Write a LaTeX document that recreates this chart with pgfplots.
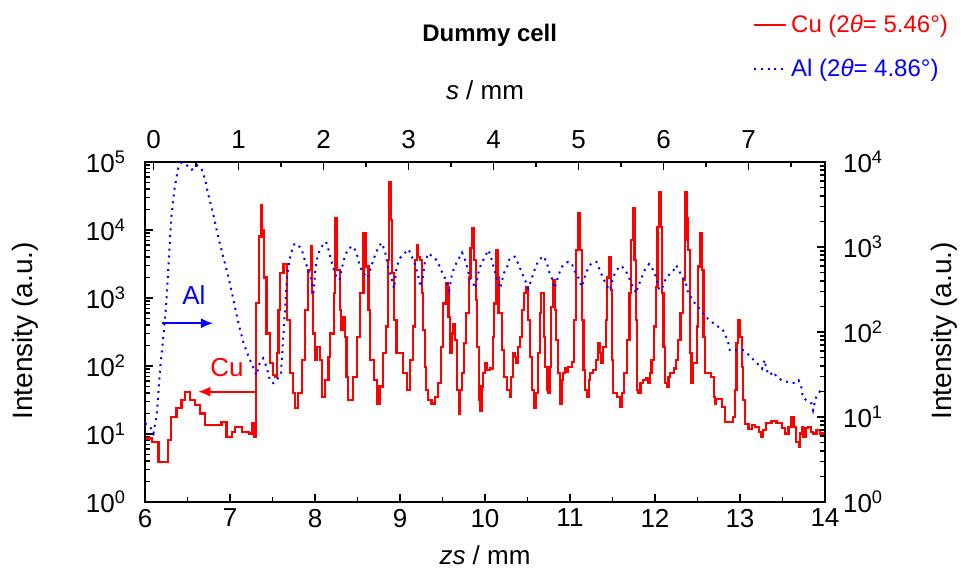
\documentclass[border=0pt]{standalone}
\usepackage{fontspec}
\setmainfont{Liberation Sans}
\usepackage{pgfplots}
\usepackage{pgfplotstable}
\pgfplotsset{compat=1.18}
\usetikzlibrary{arrows.meta}

% Cu signal (left axis), zs in mm
\pgfplotstableread{
zs I
6.00 8.6
6.08 7.7
6.16 3.9
6.24 3.9
6.27 8.2
6.31 18
6.37 24
6.43 32
6.47 42
6.53 32
6.59 27
6.65 20
6.71 13.6
6.82 13.6
6.90 15
6.96 9.1
7.02 10.8
7.06 12.8
7.14 10.8
7.22 10.2
7.26 14.4
7.28 9
7.31 850
7.34 8000
7.37 23000
7.38 10000
7.40 2000
7.43 300
7.47 110
7.51 74
7.53 69
7.55 154
7.57 670
7.59 2300
7.63 3200
7.667 475
7.706 78
7.745 40
7.765 24
7.804 40
7.843 122
7.882 670
7.922 2600
7.949 5700
7.969 1170
7.98 300
8.00 122
8.02 192
8.06 122
8.08 35
8.12 62
8.16 137
8.18 300
8.22 1170
8.24 14800
8.26 2600
8.29 670
8.31 340
8.33 530
8.35 270
8.37 69
8.39 32
8.43 32
8.45 69
8.49 270
8.53 1170
8.57 8900
8.60 2900
8.63 670
8.65 122
8.69 62
8.73 28
8.76 50
8.80 154
8.84 380
8.855 3600
8.875 51000
8.894 14000
8.91 2300
8.93 475
8.96 154
9.00 154
9.04 78
9.08 44
9.12 122
9.15 380
9.18 3600
9.20 6000
9.216 4000
9.235 3600
9.255 1170
9.275 340
9.294 97
9.31 44
9.33 32
9.37 28
9.41 35
9.45 56
9.48 192
9.51 830
9.54 1650
9.56 1470
9.57 530
9.59 154
9.61 300
9.63 420
9.65 240
9.67 44
9.69 20
9.71 44
9.73 78
9.75 215
9.78 600
9.81 2000
9.83 5400
9.85 10500
9.87 3600
9.89 930
9.91 192
9.93 32
9.945 22
9.96 50
9.98 78
10.00 110
10.02 87
10.06 92
10.09 270
10.11 830
10.13 5100
10.15 2000
10.16 600
10.20 170
10.22 69
10.26 44
10.29 35
10.31 69
10.33 154
10.35 137
10.37 110
10.39 192
10.41 270
10.44 670
10.46 1170
10.48 1470
10.51 475
10.53 137
10.55 44
10.58 24
10.60 40
10.62 154
10.65 600
10.66 1170
10.69 270
10.71 97
10.73 44
10.745 40
10.76 97
10.78 740
10.80 1830
10.82 670
10.84 240
10.86 78
10.88 28
10.90 62
10.92 78
10.94 92
10.96 82
10.98 97
11.02 115
11.05 475
11.07 5100
11.10 17600
11.12 5100
11.14 475
11.16 87
11.18 44
11.20 35
11.22 62
11.24 78
11.27 87
11.31 122
11.33 215
11.35 154
11.37 110
11.39 192
11.42 475
11.44 2000
11.46 4000
11.48 1300
11.49 122
11.51 40
11.55 35
11.59 25
11.61 40
11.64 78
11.67 240
11.70 1170
11.72 7100
11.74 21000
11.76 3600
11.78 475
11.79 44
11.80 40
11.83 56
11.86 62
11.90 66
11.92 56
11.94 78
11.96 122
11.99 380
12.01 1470
12.03 11200
12.05 36500
12.07 11200
12.08 1170
12.10 192
12.12 56
12.14 50
12.16 69
12.18 78
12.22 92
12.25 122
12.27 240
12.30 600
12.33 1830
12.35 7100
12.36 36000
12.37 14800
12.39 5100
12.41 154
12.43 56
12.45 110
12.47 110
12.49 380
12.51 2900
12.53 8900
12.55 2600
12.57 270
12.59 78
12.63 78
12.66 69
12.69 35
12.71 28
12.72 33
12.76 33
12.79 25
12.82 15
12.88 15
12.92 18
12.94 44
12.96 215
12.98 475
13.00 270
13.02 97
13.04 32
13.06 14
13.10 12
13.14 13.6
13.18 12.8
13.22 10.8
13.25 9.1
13.27 11.4
13.31 14.4
13.37 15.7
13.43 14.4
13.49 12.1
13.53 10.2
13.57 12.8
13.60 18
13.63 12.8
13.66 7.7
13.69 6.5
13.71 10.2
13.73 12.8
13.74 9.1
13.77 12.1
13.80 12.8
13.84 10.8
13.86 10.2
13.90 11.4
13.94 10.2
14.00 11.4
}\cudata

% Al signal (right axis)
\pgfplotstableread{
zs I
6.00 8.4
6.06 7.7
6.10 6.4
6.14 11
6.18 39
6.22 96
6.25 217
6.28 700
6.31 2270
6.35 5100
6.39 8400
6.43 9900
6.49 9200
6.55 8100
6.61 9200
6.67 8100
6.71 6100
6.74 4300
6.80 2500
6.86 1320
6.92 770
6.98 450
7.04 240
7.10 126
7.16 74
7.22 51
7.27 39
7.31 31
7.35 43
7.39 49
7.43 39
7.47 27
7.51 25
7.55 27
7.60 33
7.63 100
7.65 200
7.67 450
7.70 700
7.73 920
7.76 1100
7.80 1050
7.84 960
7.88 700
7.92 535
7.96 410
7.98 270
8.00 490
8.02 700
8.05 880
8.09 1050
8.13 1150
8.16 920
8.20 640
8.24 470
8.29 410
8.31 535
8.35 770
8.39 960
8.45 1020
8.49 840
8.53 580
8.57 490
8.62 430
8.66 580
8.70 770
8.74 960
8.78 1120
8.82 920
8.86 580
8.90 430
8.93 325
8.96 580
9.00 740
9.05 840
9.10 940
9.14 770
9.18 610
9.22 430
9.24 340
9.27 450
9.29 640
9.33 840
9.39 770
9.43 700
9.47 580
9.51 470
9.55 390
9.58 310
9.61 470
9.64 580
9.68 700
9.73 860
9.76 740
9.80 535
9.82 410
9.86 375
9.89 325
9.92 490
9.95 610
9.99 740
10.04 920
10.07 770
10.10 580
10.14 430
10.18 325
10.22 490
10.26 580
10.29 740
10.35 770
10.39 640
10.43 510
10.47 410
10.51 325
10.55 430
10.59 560
10.63 700
10.69 780
10.73 640
10.76 490
10.80 400
10.82 325
10.86 450
10.90 580
10.94 640
10.98 670
11.02 640
11.05 535
11.10 430
11.14 340
11.18 470
11.22 580
11.25 640
11.31 670
11.35 535
11.39 430
11.43 355
11.47 310
11.51 450
11.55 535
11.59 600
11.64 560
11.69 450
11.73 355
11.78 285
11.80 340
11.84 430
11.88 535
11.93 630
11.98 535
12.01 450
12.05 310
12.09 340
12.13 430
12.18 490
12.22 535
12.25 610
12.29 510
12.33 430
12.37 355
12.39 285
12.43 250
12.47 217
12.51 197
12.55 172
12.59 151
12.65 138
12.71 120
12.79 110
12.82 96
12.86 77
12.88 61
13.04 61
13.10 54
13.16 47
13.22 41
13.26 37
13.29 47
13.31 36
13.35 31
13.39 34
13.43 30
13.49 27
13.55 26
13.65 25
13.69 27
13.72 23
13.74 17
13.79 15.5
13.84 14.5
13.86 12
13.89 16.6
13.94 20
14.00 19
}\aldata

\newcommand{\tfont}{\fontsize{13}{15}\selectfont}
\newcommand{\yfont}{\fontsize{14}{16}\selectfont}
\definecolor{cured}{RGB}{255,0,0}

\pgfplotsset{
  common/.style={
    at={(0,0)}, scale only axis, width=340pt, height=170pt,
    xmin=6, xmax=14,
    tick align=inside, major tick length=4pt, minor tick length=2.5pt,
    axis line style={line width=1pt},
    every tick/.style={black, line width=0.8pt},
    /pgf/number format/assume math mode=true,
    tick label style={font=\tfont},
    label style={font=\tfont},
  },
}

\begin{document}
\begin{tikzpicture}
\path[use as bounding box] (-72.5pt,-35pt) rectangle (408.5pt,251pt);

\begin{axis}[ymode=log, log basis y=10, common,
  ymin=1, ymax=1e5,
  xtick={6,7,8,9,10,11,12,13,14},
  minor xtick={6.5,7.5,8.5,9.5,10.5,11.5,12.5,13.5},
  ytick={1,10,100,1000,10000,100000},
  yticklabels={10\textsuperscript{0},10\textsuperscript{1},10\textsuperscript{2},10\textsuperscript{3},10\textsuperscript{4},10\textsuperscript{5}},
  minor ytick={2,3,4,5,6,7,8,9,20,30,40,50,60,70,80,90,200,300,400,500,600,700,800,900,2000,3000,4000,5000,6000,7000,8000,9000,20000,30000,40000,50000,60000,70000,80000,90000},
  xtick pos=left, ytick pos=left,
  yticklabel style={xshift=-6pt},
  xlabel={\textit{zs} / mm},
  xlabel style={at={(axis description cs:0.5,-0.156)}, anchor=center},
  ylabel={Intensity (a.u.)},
  ylabel style={at={(axis description cs:-0.176,0.503)}, anchor=center, font=\yfont},
]
\addplot[draw=cured, line width=1.1pt, const plot, line join=miter] table[x=zs, y=I] {\cudata};
\node[blue, font=\tfont] at (axis cs:6.576,1107) {Al};
\draw[blue, line width=0.9pt, -{Latex[length=6pt,width=5pt]}] (axis cs:6.196,425) -- (axis cs:6.80,425);
\node[cured, font=\tfont] at (axis cs:6.965,93.5) {Cu};
\draw[cured, line width=0.9pt, -{Latex[length=6pt,width=5pt]}] (axis cs:7.294,41.9) -- (axis cs:6.627,41.9);
\end{axis}

\begin{axis}[ymode=log, log basis y=10, common,
  ymin=1, ymax=1e4,
  xtick={6.1,7.1,8.1,9.1,10.1,11.1,12.1,13.1},
  xticklabels={0,1,2,3,4,5,6,7},
  minor xtick={6.6,7.6,8.6,9.6,10.6,11.6,12.6,13.6},
  ytick={1,10,100,1000,10000},
  yticklabels={10\textsuperscript{0},10\textsuperscript{1},10\textsuperscript{2},10\textsuperscript{3},10\textsuperscript{4}},
  minor ytick={2,3,4,5,6,7,8,9,20,30,40,50,60,70,80,90,200,300,400,500,600,700,800,900,2000,3000,4000,5000,6000,7000,8000,9000},
  xtick pos=right, xticklabel pos=right,
  ytick pos=right, yticklabel pos=right,
  xticklabel style={yshift=3pt},
  yticklabel style={xshift=5.5pt},
  xlabel={\textit{s} / mm},
  xlabel style={at={(axis description cs:0.5,1.212)}, anchor=center},
  ylabel={Intensity (a.u.)},
  ylabel style={at={(axis description cs:1.176,0.503)}, anchor=center, font=\yfont},
  title={\textbf{Dummy cell}},
  title style={at={(axis description cs:0.507,1.338)}, anchor=center, font=\fontsize{12}{14}\selectfont},
  legend style={at={(axis description cs:1.196,1.458)}, anchor=north east,
    draw=none, fill=none, font=\fontsize{12}{14}\selectfont, row sep=8pt,
    cells={anchor=west}},
  legend image code/.code={\draw[#1] (0pt,0pt) -- (16pt,0pt);},
]
\addlegendimage{draw=cured, line width=1.1pt}
\addlegendentry{\textcolor{cured}{Cu (2\textit{θ}= 5.46°)}}
\addplot[blue, line width=1pt, dash pattern=on 1pt off 2.4pt] table[x=zs, y=I] {\aldata};
\addlegendentry{\textcolor{blue}{Al (2\textit{θ}= 4.86°)}}
\end{axis}
\end{tikzpicture}
\end{document}
